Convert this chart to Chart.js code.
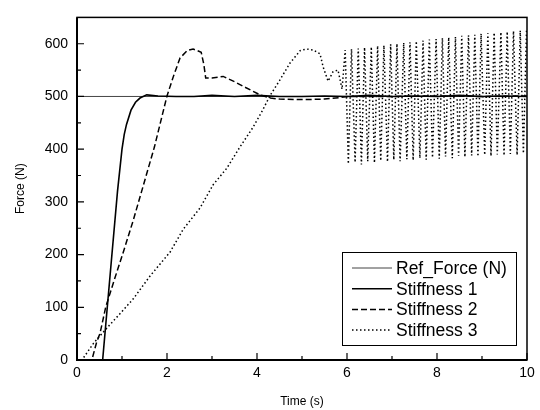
<!DOCTYPE html>
<html>
<head>
<meta charset="utf-8">
<script src="https://cdn.jsdelivr.net/npm/chart.js@4.4.1/dist/chart.umd.min.js"></script>
<style>
  html, body { margin: 0; padding: 0; background: #fff; }
  #wrap { width: 540px; height: 410px; }
</style>
</head>
<body>
<div id="wrap"><canvas id="forceChart" width="540" height="410"></canvas></div>
<script>
// Values (time in s, force in N)
const timeRef = [0, 10];
const forceRef = [500, 500];

const timeS1 = [0, 0.57, 0.75, 0.9, 1.0, 1.05, 1.1, 1.2, 1.3, 1.4, 1.55, 1.8, 2.2, 2.6, 3.0, 3.5, 4.0, 4.5, 5.0, 5.5, 6.0, 6.5, 7.0, 7.5, 8.0, 8.5, 9.0, 9.5, 10];
const forceS1 = [0, 0, 175, 320, 400, 428, 447, 474, 489, 497, 503, 501, 500, 500, 502, 500, 502, 500, 500, 501, 500, 502, 500, 501, 500, 502, 500, 501, 500];

const timeS2 = [0, 0.33, 0.44, 0.51, 0.64, 0.84, 1.03, 1.25, 1.47, 1.72, 2.0, 2.15, 2.29, 2.45, 2.58, 2.76, 2.82, 2.86, 3.0, 3.25, 3.5, 3.7, 4.07, 4.3, 4.5, 5.0, 5.5, 5.85, 6.0, 7.0, 8.0, 9.0, 10];
const forceS2 = [0, 0, 35, 50, 101, 155, 205, 265, 330, 404, 501, 540, 573, 587, 590, 584, 560, 535, 535, 538, 528, 519, 503, 497, 495, 494, 495, 498, 500, 500, 501, 500, 501];

const timeS3 = [0, 0.11, 0.37, 0.7, 1.0, 1.25, 1.62, 2.07, 2.36, 2.73, 3.03, 3.33, 3.62, 3.9, 4.1, 4.3, 4.5, 4.73, 4.96, 5.1, 5.25, 5.4, 5.47, 5.58, 5.69, 5.8, 5.89];
const forceS3 = [0, 0, 32, 64, 92, 116, 159, 205, 248, 288, 333, 364, 404, 440, 470, 503, 530, 563, 587, 590, 588, 581, 556, 529, 547, 550, 514];
// oscillating part after ~6 s (peaks and troughs)
const timeS3Osc = [5.96, 6.03, 6.10, 6.18, 6.25, 6.32, 6.39, 6.46, 6.54, 6.61, 6.68, 6.75, 6.82, 6.90, 6.97, 7.04, 7.11, 7.18, 7.26, 7.33,
    7.40, 7.47, 7.54, 7.62, 7.69, 7.76, 7.83, 7.90, 7.98, 8.05, 8.12, 8.19, 8.26, 8.34, 8.41, 8.48, 8.55, 8.62, 8.70, 8.77,
    8.84, 8.91, 8.98, 9.06, 9.13, 9.20, 9.27, 9.34, 9.42, 9.49, 9.56, 9.63, 9.70, 9.78, 9.85, 9.92, 9.99];
const forceS3Osc = [588, 372, 590, 375, 591, 371, 593, 377, 594, 374, 596, 378, 597, 376, 599, 380, 600, 377, 602, 381,
    603, 379, 605, 383, 606, 380, 608, 384, 609, 382, 611, 386, 612, 383, 613, 387, 615, 385, 616, 388,
    617, 386, 619, 389, 620, 387, 621, 390, 622, 388, 623, 391, 624, 389, 625, 392, 627];

const xTicks = [0, 2, 4, 6, 8, 10];
const xMinorTicks = [1, 3, 5, 7, 9];
const yTicks = [0, 100, 200, 300, 400, 500, 600];
const yMinorTicks = [50, 150, 250, 350, 450, 550];

const seriesNames = ['Ref_Force (N)', 'Stiffness 1', 'Stiffness 2', 'Stiffness 3'];

function toPoints(xs, ys) {
    return xs.map((x, i) => ({ x: x, y: ys[i] }));
}

const FONT = '"Liberation Sans", Arial, Helvetica, sans-serif';

// draws the frame, the inward ticks and the boxed legend
const framePlugin = {
    id: 'frame',
    afterDatasetsDraw(chart) {
        const { ctx, chartArea: a, scales } = chart;
        ctx.save();
        ctx.strokeStyle = '#000';
        ctx.setLineDash([]);

        // ticks pointing into the plot
        ctx.lineWidth = 1.2;
        ctx.beginPath();
        xTicks.forEach(v => { const px = scales.x.getPixelForValue(v); ctx.moveTo(px, a.bottom); ctx.lineTo(px, a.bottom - 7); });
        xMinorTicks.forEach(v => { const px = scales.x.getPixelForValue(v); ctx.moveTo(px, a.bottom); ctx.lineTo(px, a.bottom - 4); });
        yTicks.forEach(v => { const py = scales.y.getPixelForValue(v); ctx.moveTo(a.left, py); ctx.lineTo(a.left + 7, py); });
        yMinorTicks.forEach(v => { const py = scales.y.getPixelForValue(v); ctx.moveTo(a.left, py); ctx.lineTo(a.left + 4, py); });
        ctx.stroke();

        // frame
        ctx.lineWidth = 1.5;
        ctx.strokeRect(a.left, a.top, a.right - a.left, a.bottom - a.top);
        ctx.lineWidth = 2;
        ctx.beginPath();
        ctx.moveTo(a.left, a.top);
        ctx.lineTo(a.left, a.bottom);
        ctx.lineTo(a.right, a.bottom);
        ctx.stroke();

        // legend
        const boxW = 174, boxH = 93;
        const bx = a.right - 11 - boxW, by = a.bottom - 15 - boxH;
        ctx.fillStyle = '#fff';
        ctx.fillRect(bx, by, boxW, boxH);
        ctx.lineWidth = 1;
        ctx.strokeRect(bx + 0.5, by + 0.5, boxW, boxH);
        ctx.font = '17.5px ' + FONT;
        ctx.textBaseline = 'middle';
        ctx.textAlign = 'left';
        chart.data.datasets.forEach((ds, i) => {
            const ry = by + 16 + i * 20.7;
            ctx.strokeStyle = ds.borderColor;
            ctx.lineWidth = ds.borderWidth;
            ctx.setLineDash(ds.borderDash || []);
            ctx.beginPath();
            ctx.moveTo(bx + 10, ry);
            ctx.lineTo(bx + 50, ry);
            ctx.stroke();
            ctx.fillStyle = '#000';
            ctx.fillText(ds.label, bx + 54, ry + 1);
        });
        ctx.restore();
    }
};

const ctx = document.getElementById('forceChart').getContext('2d');
const forceChart = new Chart(ctx, {
    type: 'line',
    data: {
        datasets: [
            {
                label: seriesNames[0],
                data: toPoints(timeRef, forceRef),
                borderColor: '#444',
                borderWidth: 1,
                order: 3
            },
            {
                label: seriesNames[1],
                data: toPoints(timeS1, forceS1),
                borderColor: '#000',
                borderWidth: 1.6,
                order: 0
            },
            {
                label: seriesNames[2],
                data: toPoints(timeS2, forceS2),
                borderColor: '#000',
                borderWidth: 1.5,
                borderDash: [6, 3],
                order: 1
            },
            {
                label: seriesNames[3],
                data: toPoints(timeS3.concat(timeS3Osc), forceS3.concat(forceS3Osc)),
                borderColor: '#000',
                borderWidth: 1.5,
                borderDash: [1.5, 2.5],
                order: 2
            }
        ]
    },
    options: {
        responsive: false,
        animation: false,
        events: [],
        elements: { point: { radius: 0 }, line: { tension: 0, fill: false } },
        layout: { padding: { left: 0, top: 5, right: 13, bottom: 0 } },
        plugins: { legend: { display: false }, tooltip: { enabled: false } },
        scales: {
            x: {
                type: 'linear',
                min: 0,
                max: 10,
                afterFit: s => { s.height = 50; },
                afterBuildTicks: s => { s.ticks = xTicks.map(v => ({ value: v })); },
                grid: { display: false, drawTicks: false },
                border: { display: false },
                ticks: { color: '#000', padding: 5, maxRotation: 0, font: { family: FONT, size: 14 } },
                title: { display: true, text: 'Time (s)', color: '#000', padding: { top: 0, bottom: 1 }, font: { family: FONT, size: 12 } }
            },
            y: {
                min: 0,
                max: 650,
                afterFit: s => { s.width = 77; },
                afterBuildTicks: s => { s.ticks = yTicks.map(v => ({ value: v })); },
                grid: { display: false, drawTicks: false },
                border: { display: false },
                ticks: { color: '#000', padding: 9, font: { family: FONT, size: 14 } },
                title: { display: true, text: 'Force (N)', color: '#000', padding: { top: 13, bottom: 0 }, font: { family: FONT, size: 12 } }
            }
        }
    },
    plugins: [framePlugin]
});
</script>
</body>
</html>
